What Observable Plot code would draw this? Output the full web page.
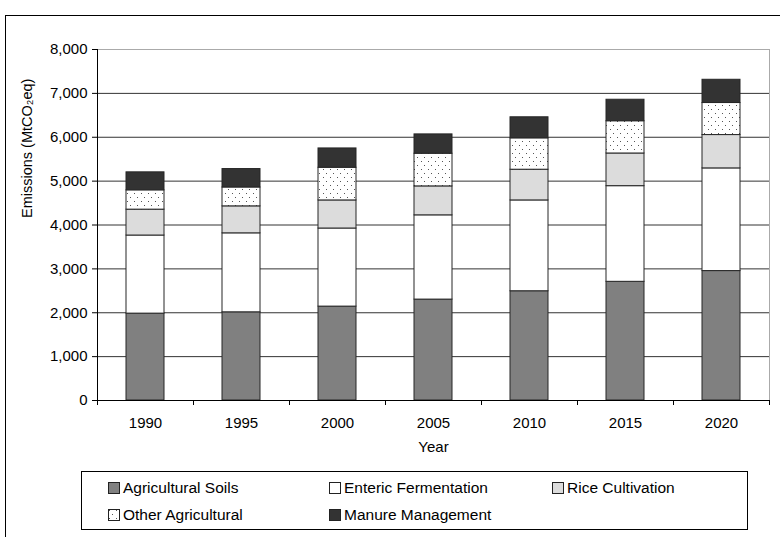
<!DOCTYPE html>
<html>
<head>
<meta charset="utf-8">
<script src="https://cdn.jsdelivr.net/npm/d3@7"></script>
<script src="https://cdn.jsdelivr.net/npm/@observablehq/plot@0.6"></script>
<style>
  html, body { margin: 0; padding: 0; background: #fff; overflow: hidden; }
  body { width: 780px; height: 537px; position: relative; font-family: "Liberation Sans", Arial, sans-serif; }
  #frame { position: absolute; left: 5px; top: 15px; width: 900px; height: 700px; border: 1.5px solid #000; box-sizing: border-box; }
  #chart { position: absolute; left: 0; top: 0; }
  #legend { position: absolute; left: 81px; top: 471px; width: 667px; height: 59px; border: 1px solid #000; box-sizing: border-box; background: #fff; }
  .item { position: absolute; display: flex; align-items: center; font-size: 15.5px; color: #000; white-space: nowrap; line-height: 1; }
  .item svg { margin-right: 3px; }
</style>
</head>
<body>
<svg width="0" height="0" style="position:absolute">
  <defs>
    <pattern id="dots" patternUnits="userSpaceOnUse" width="7" height="8">
      <rect width="7" height="8" fill="#fff"></rect>
      <rect x="1" y="1" width="1" height="1" fill="#555"></rect>
      <rect x="4" y="5" width="1" height="1" fill="#555"></rect>
    </pattern>
  </defs>
</svg>
<div id="frame"></div>
<div id="chart"></div>
<div id="legend"></div>
<script>
const years = ["1990", "1995", "2000", "2005", "2010", "2015", "2020"];
const series = ["Agricultural Soils", "Enteric Fermentation", "Rice Cultivation", "Other Agricultural", "Manure Management"];
const agriculturalSoils   = [1980, 2010, 2140, 2300, 2490, 2705, 2950];
const entericFermentation = [1780, 1800, 1780, 1920, 2070, 2180, 2340];
const riceCultivation     = [ 590,  615,  640,  660,  700,  745,  760];
const otherAgricultural   = [ 440,  430,  745,  745,  715,  735,  730];
const manureManagement    = [ 410,  420,  440,  440,  480,  490,  530];
const yTicks = [0, 1000, 2000, 3000, 4000, 5000, 6000, 7000, 8000];
const fills = ["#808080", "#ffffff", "#dcdcdc", "url(#dots)", "#333333"];

const valuesBySeries = [agriculturalSoils, entericFermentation, riceCultivation, otherAgricultural, manureManagement];
const data = [];
series.forEach((s, si) => years.forEach((y, yi) => data.push({series: s, year: y, value: valuesBySeries[si][yi]})));

const W = 780, H = 465, ML = 97, MR = 11, MT = 49, MB = 65;
const step = (W - ML - MR) / years.length;
const plotH = H - MT - MB;

const chart = Plot.plot({
  width: W, height: H,
  marginLeft: ML, marginRight: MR, marginTop: MT, marginBottom: MB,
  style: {fontFamily: "Liberation Sans, Arial, sans-serif", fontSize: "15px", color: "#000", background: "transparent"},
  x: {domain: years, paddingInner: 0.6, paddingOuter: 0.3},
  y: {domain: [0, 8000]},
  color: {domain: series, range: fills},
  marks: [
    Plot.frame({stroke: "#aaa"}),
    Plot.ruleY(yTicks.slice(0, -1), {stroke: "#333", strokeWidth: 1}),
    Plot.ruleY([yTicks[yTicks.length - 1]], {stroke: "#aaa", strokeWidth: 1}),
    Plot.barY(data, {x: "year", y: "value", fill: "series", stroke: "#262626", strokeWidth: 1}),
    Plot.ruleX([years[0]], {dx: -step / 2, stroke: "#000", strokeWidth: 1}),
    Plot.ruleY([0], {stroke: "#000", strokeWidth: 1}),
    Plot.ruleX(years, {dx: -step / 2, stroke: "#000", insetTop: plotH, insetBottom: -5}),
    Plot.ruleX([years[years.length - 1]], {dx: step / 2, stroke: "#000", insetTop: plotH, insetBottom: -5}),
    Plot.axisY({ticks: yTicks, tickFormat: d3.format(","), tickSize: 5, tickPadding: 5, fontSize: 15, label: null, stroke: "#000"}),
    Plot.axisX({tickSize: 0, tickPadding: 17, fontSize: 15, label: null}),
    Plot.text(["Year"], {frameAnchor: "bottom", dy: 51, fontSize: 15, fill: "#000"}),
    Plot.text(["Emissions (MtCO\u2082eq)"], {frameAnchor: "left", rotate: -90, dx: -70, dy: -7, fontSize: 14.5, fill: "#000"})
  ]
});
document.getElementById("chart").appendChild(chart);

// legend
const legend = document.getElementById("legend");
const positions = [[26, 16], [247, 16], [470, 16], [26, 43], [247, 43]];
series.forEach((s, i) => {
  const div = document.createElement("div");
  div.className = "item";
  div.style.left = positions[i][0] + "px";
  div.style.top = (positions[i][1] - 8) + "px";
  div.innerHTML = `<svg width="12" height="12"><rect x="0.5" y="0.5" width="11" height="11" fill="${fills[i]}" stroke="#222" stroke-width="1"></rect></svg><span>${s}</span>`;
  legend.appendChild(div);
});
</script>
</body>
</html>
